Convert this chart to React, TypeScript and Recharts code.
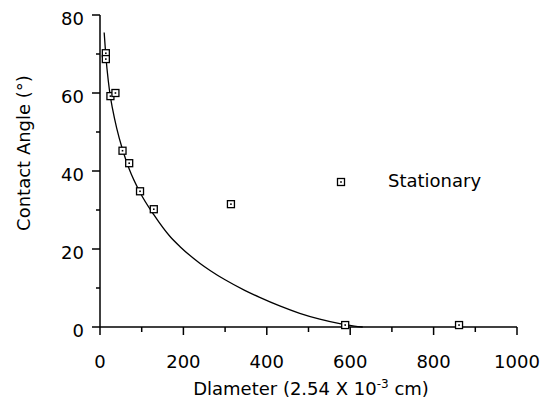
import { ComposedChart, Line, Scatter, XAxis, YAxis, Label, Legend } from 'recharts';

// measured points (diameter in 2.54e-3 cm, contact angle in degrees)
const stationary = [
  { x: 14, y: 70.2 },
  { x: 14, y: 68.7 },
  { x: 25, y: 59.2 },
  { x: 37, y: 60 },
  { x: 54, y: 45.2 },
  { x: 70, y: 42 },
  { x: 96, y: 34.8 },
  { x: 129, y: 30.2 },
  { x: 314, y: 31.5 },
  { x: 588, y: 0.5 },
  { x: 861, y: 0.5 },
];

// fitted curve
const fitCurve = [
  { x: 10, y: 75.5 },
  { x: 14, y: 69.5 },
  { x: 20, y: 63 },
  { x: 25, y: 59 },
  { x: 30, y: 56 },
  { x: 40, y: 51 },
  { x: 54, y: 45.5 },
  { x: 70, y: 40.5 },
  { x: 96, y: 34.5 },
  { x: 129, y: 28.8 },
  { x: 168, y: 23.2 },
  { x: 192, y: 20.6 },
  { x: 240, y: 16.3 },
  { x: 264, y: 14.5 },
  { x: 300, y: 12.1 },
  { x: 347, y: 9.4 },
  { x: 383, y: 7.6 },
  { x: 431, y: 5.4 },
  { x: 479, y: 3.5 },
  { x: 527, y: 2.0 },
  { x: 575, y: 0.85 },
  { x: 610, y: 0.25 },
  { x: 630, y: 0 },
];

const xTicks = [0, 100, 200, 300, 400, 500, 600, 700, 800, 900, 1000];
const yTicks = [0, 10, 20, 30, 40, 50, 60, 70, 80];

const FONT = '"DejaVu Sans", sans-serif';

function SquareMark(props: any) {
  const { cx, cy } = props;
  if (cx == null || cy == null) return null;
  return (
    <g>
      <rect x={cx - 3.5} y={cy - 3.5} width={7} height={7} fill="#fff" stroke="#000" strokeWidth={1.3} />
      <rect x={cx - 0.8} y={cy - 0.8} width={1.6} height={1.6} fill="#000" />
    </g>
  );
}

function XTick(props: any) {
  const { x, y, payload } = props;
  const v = payload.value;
  const major = v % 200 === 0;
  return (
    <g>
      <line x1={x} y1={y} x2={x} y2={y + (major ? 8 : 5)} stroke="#000" strokeWidth={1.5} />
      {major && (
        <text x={x} y={y + 41} textAnchor="middle" fontFamily={FONT} fontSize={18} fill="#000">
          {v}
        </text>
      )}
    </g>
  );
}

function YTick(props: any) {
  const { x, y, payload } = props;
  const v = payload.value;
  const major = v % 20 === 0;
  return (
    <g>
      <line x1={x} y1={y} x2={x - (major ? 8 : 4)} y2={y} stroke="#000" strokeWidth={1.5} />
      {major && (
        <text x={x - 16} y={y + 10} textAnchor="end" fontFamily={FONT} fontSize={18} fill="#000">
          {v}
        </text>
      )}
    </g>
  );
}

function LegendBox() {
  return (
    <svg width={170} height={26}>
      <SquareMark cx={7} cy={14} />
      <text x={54} y={19} fontFamily={FONT} fontSize={18} fill="#000">
        Stationary
      </text>
    </svg>
  );
}

export default function App() {
  return (
    <div style={{ position: 'absolute', left: 0, top: 0, background: '#fff' }}>
      <ComposedChart width={552} height={398} margin={{ top: 15, right: 35, bottom: 0, left: 40 }}>
        <XAxis
          type="number"
          dataKey="x"
          domain={[0, 1000]}
          ticks={xTicks}
          interval={0}
          height={71}
          tickSize={0}
          tickMargin={0}
          tickLine={false}
          tick={<XTick />}
          axisLine={{ stroke: '#000', strokeWidth: 1.5 }}
        >
          <Label
            content={() => (
              <text x={311} y={395} textAnchor="middle" fontFamily={FONT} fontSize={18} fill="#000">
                Dlameter (2.54 X 10
                <tspan fontSize={12} dy={-7}>-3</tspan>
                <tspan dy={7}> cm)</tspan>
              </text>
            )}
          />
        </XAxis>
        <YAxis
          type="number"
          dataKey="y"
          domain={[0, 80]}
          ticks={yTicks}
          interval={0}
          width={60}
          tickSize={0}
          tickMargin={0}
          tickLine={false}
          tick={<YTick />}
          axisLine={{ stroke: '#000', strokeWidth: 1.5 }}
        >
          <Label
            content={() => (
              <text
                x={30}
                y={153}
                transform="rotate(-90 30 153)"
                textAnchor="middle"
                fontFamily={FONT}
                fontSize={18}
                fill="#000"
              >
                Contact Angle (°)
              </text>
            )}
          />
        </YAxis>
        <Legend
          layout="vertical"
          align="center"
          verticalAlign="middle"
          content={() => <LegendBox />}
          wrapperStyle={{ position: 'absolute', left: 334, top: 168, width: 170 }}
        />
        <Line
          data={fitCurve}
          dataKey="y"
          type="monotone"
          stroke="#000"
          strokeWidth={1.3}
          dot={false}
          activeDot={false}
          legendType="none"
          isAnimationActive={false}
        />
        <Scatter data={stationary} dataKey="y" shape={<SquareMark />} isAnimationActive={false} />
      </ComposedChart>
    </div>
  );
}
